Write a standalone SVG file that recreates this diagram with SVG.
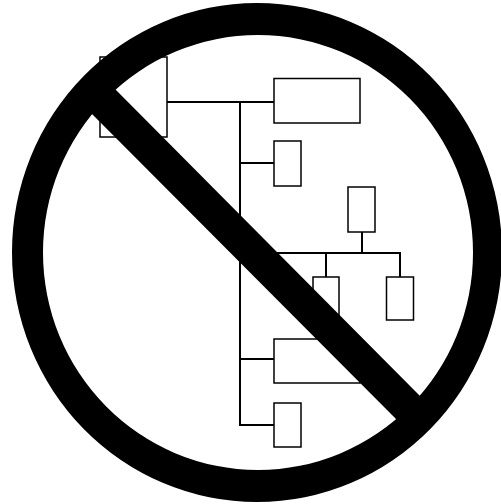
<svg xmlns="http://www.w3.org/2000/svg" width="501" height="504" viewBox="0 0 501 504">
<style>.n{fill:#fff;stroke:#000;stroke-width:1.5}.c{fill:none;stroke:#000;stroke-width:2}</style>
<rect width="501" height="504" fill="#fff"/>
<g id="connectors" class="c">
<path d="M167 102H274M240 102V425H274M240 163H274M240 253H400V277M362 232V253M326 253V277M240 359H274"/>
</g>
<g id="node1"><rect class="n" x="100" y="57" width="67" height="80"/></g>
<g id="node2"><rect class="n" x="274" y="78.500" width="86" height="44.500"/></g>
<g id="node3"><rect class="n" x="274" y="141" width="27" height="45"/></g>
<g id="node4"><rect class="n" x="348" y="187" width="27" height="45"/></g>
<g id="node5"><rect class="n" x="313" y="277" width="26" height="45"/></g>
<g id="node6"><rect class="n" x="386.500" y="277" width="27" height="43"/></g>
<g id="node7"><rect class="n" x="274" y="339" width="86" height="44"/></g>
<g id="node8"><rect class="n" x="274" y="403" width="27" height="44"/></g>
<path d="M101 75L116 90L419 395L434 410L411 434L396 419L93 115L78 100Z" fill="#000"/>
<path fill="#000" fill-rule="evenodd" d="M12 252.500A245 249.500 0 1 1 502 252.500A245 249.500 0 1 1 12 252.500ZM43 252.500A215 217.500 0 1 0 473 252.500A215 217.500 0 1 0 43 252.500Z"/>
</svg>
